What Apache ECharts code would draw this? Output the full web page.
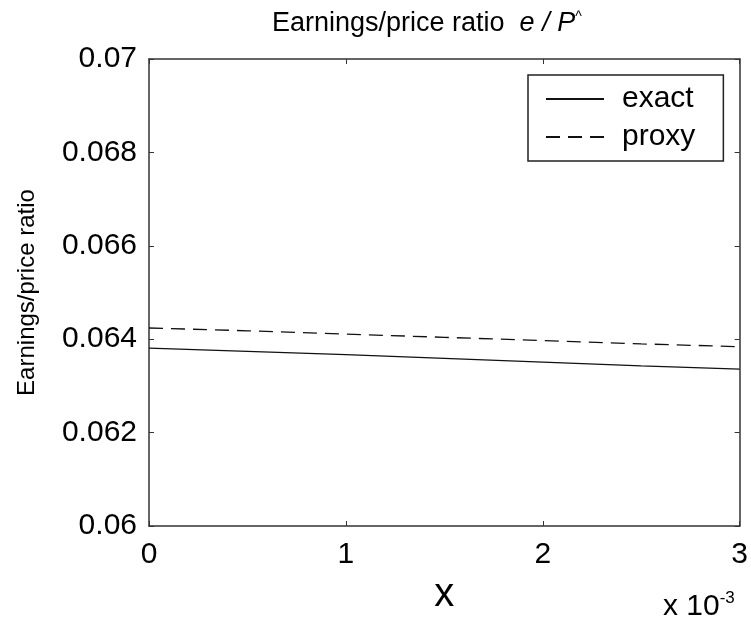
<!DOCTYPE html>
<html>
<head>
<meta charset="utf-8">
<script src="https://cdn.jsdelivr.net/npm/echarts@6/dist/echarts.min.js"></script>
<style>
  html, body { margin: 0; padding: 0; background: #fff; }
  #chart { width: 751px; height: 624px; }
</style>
</head>
<body>
<div id="chart"></div>
<script>
// x values (real units, axis shows them x 10^-3)
var xVals = [0, 0.0005, 0.001, 0.0015, 0.002, 0.0025, 0.003];
var exactVals = [0.06381, 0.06374, 0.06367, 0.06359, 0.06351, 0.06343, 0.06336];
var proxyVals = [0.06424, 0.06418, 0.06411, 0.06404, 0.06397, 0.06390, 0.06384];
var seriesNames = ['exact', 'proxy'];

function pairs(xs, ys) {
  var out = [];
  for (var i = 0; i < xs.length; i++) out.push([xs[i], ys[i]]);
  return out;
}

var myChart = echarts.init(document.getElementById('chart'));
var font = 'Liberation Sans, Arial, sans-serif';

var axisBase = {
  axisLine: { show: true, onZero: false, lineStyle: { color: '#333', width: 1.5 } },
  axisTick: { show: true, inside: true, length: 5, lineStyle: { color: '#333' } },
  splitLine: { show: false }
};

var option = {
  animation: false,
  backgroundColor: '#fff',
  title: {
    text: 'Earnings/price ratio  {it|e / P}{sup|^}',
    left: 272,
    top: 10,
    padding: 0,
    textStyle: {
      fontFamily: font, fontSize: 27, fontWeight: 'normal', color: '#000',
      rich: {
        it: { fontFamily: font, fontSize: 27, fontStyle: 'italic', color: '#000' },
        sup: { fontFamily: font, fontSize: 14, color: '#000', verticalAlign: 'top', padding: [0, 0, 12, 0] }
      }
    }
  },
  legend: {
    data: seriesNames,
    orient: 'vertical',
    left: 528,
    top: 75,
    padding: [9, 28, 9, 17],
    itemGap: 8,
    itemWidth: 58,
    itemHeight: 30,
    itemStyle: { opacity: 0 },
    borderColor: '#222',
    borderWidth: 1.5,
    backgroundColor: '#fff',
    textStyle: { fontFamily: font, fontSize: 30, color: '#000', padding: [0, 0, 0, 13] }
  },
  grid: { left: 149, right: 10, top: 59, bottom: 98 },
  xAxis: [
    Object.assign({}, axisBase, {
      type: 'value', min: 0, max: 0.003, interval: 0.001,
      name: 'x', nameLocation: 'middle', nameGap: 42,
      nameTextStyle: { fontFamily: font, fontSize: 40, color: '#000' },
      axisLabel: {
        fontFamily: font, fontSize: 30, color: '#000', margin: 14,
        formatter: function (v) { return String(Math.round(v * 1000)); }
      }
    }),
    Object.assign({}, axisBase, {
      type: 'value', min: 0, max: 0.003, interval: 0.001, position: 'top',
      axisLabel: { show: false }
    })
  ],
  yAxis: [
    Object.assign({}, axisBase, {
      type: 'value', min: 0.06, max: 0.07, interval: 0.002,
      name: 'Earnings/price ratio', nameLocation: 'middle', nameGap: 110,
      nameTextStyle: { fontFamily: font, fontSize: 24, color: '#000' },
      axisLabel: { fontFamily: font, fontSize: 30, color: '#000', margin: 12 }
    }),
    Object.assign({}, axisBase, {
      type: 'value', min: 0.06, max: 0.07, interval: 0.002, position: 'right',
      axisLabel: { show: false }
    })
  ],
  graphic: [{
    type: 'text',
    left: 663,
    top: 590,
    style: {
      text: 'x 10{sup|-3}',
      fontFamily: font, fontSize: 30, fill: '#000',
      rich: { sup: { fontFamily: font, fontSize: 17, fill: '#000', verticalAlign: 'top', padding: [0, 0, 16, 0] } }
    }
  }],
  series: [
    {
      name: 'exact', type: 'line', showSymbol: false, symbol: 'none',
      data: pairs(xVals, exactVals),
      lineStyle: { color: '#111', width: 1.3, type: 'solid' },
      itemStyle: { color: '#111' }
    },
    {
      name: 'proxy', type: 'line', showSymbol: false, symbol: 'none',
      data: pairs(xVals, proxyVals),
      lineStyle: { color: '#111', width: 1.3, type: [14, 8] },
      itemStyle: { color: '#111' }
    }
  ]
};
myChart.setOption(option);
</script>
</body>
</html>
